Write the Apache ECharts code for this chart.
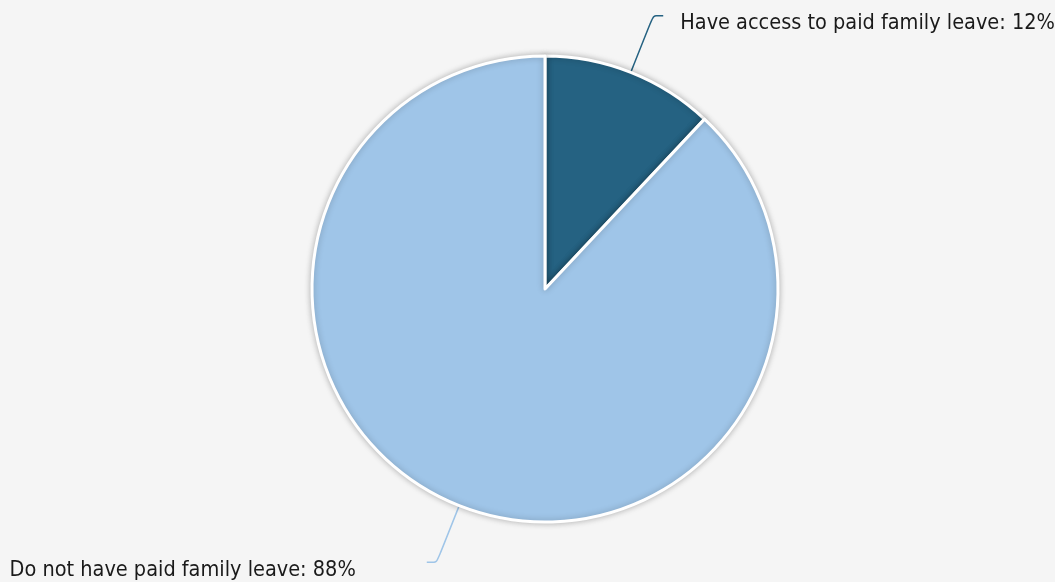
<!DOCTYPE html>
<html>
<head>
<meta charset="utf-8">
<script src="https://cdn.jsdelivr.net/npm/echarts@6/dist/echarts.min.js"></script>
<style>
html,body{margin:0;padding:0;background:#f5f5f5;}
#c{width:1055px;height:582px;}
</style>
</head>
<body>
<div id="c"></div>
<script>
const categories = ["Have access to paid family leave", "Do not have paid family leave"];
const values = [12, 88];
const colors = ["#256282", "#9fc5e8"];

const chart = echarts.init(document.getElementById('c'));
const data = categories.map((name, i) => ({
  name: name,
  value: values[i],
  itemStyle: { color: colors[i] },
  labelLine: { lineStyle: { color: colors[i], width: 1.5 } },
  label: { distanceToLabelLine: i === 0 ? 17 : 71 }
}));

const fontFam = '"DejaVu Sans Condensed", "Liberation Sans Narrow", sans-serif';

chart.setOption({
  backgroundColor: '#f5f5f5',
  animation: false,
  series: [{
    type: 'pie',
    center: [545, 289],
    radius: [0, 233],
    startAngle: 90,
    clockwise: true,
    avoidLabelOverlap: false,
    itemStyle: {
      borderColor: '#ffffff',
      borderWidth: 3,
      shadowBlur: 6,
      shadowColor: 'rgba(0,0,0,0.25)'
    },
    label: {
      show: true,
      position: 'outside',
      formatter: '{t|{b}: {c}%}',
      rich: {
        t: {
          color: '#1a1a1a',
          fontSize: 21.5,
          fontFamily: fontFam,
          padding: [16, 0, 0, 0]
        }
      }
    },
    labelLine: {
      show: true,
      length: 61,
      length2: 10,
      smooth: 0.2
    },
    data: data
  }]
});
</script>
</body>
</html>
